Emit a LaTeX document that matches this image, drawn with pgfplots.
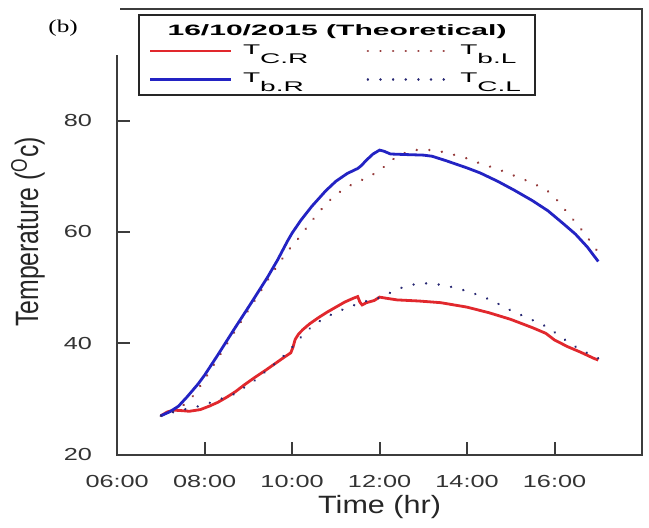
\documentclass[border=0pt]{standalone}
\usepackage{graphicx}
\usepackage{fontspec}
\setmainfont{Liberation Sans}
\newfontfamily\tickfont{Liberation Sans}[FakeStretch=1.45]
\newfontfamily\labfont{Liberation Sans}[FakeStretch=1.22]
\newfontfamily\legfont{Liberation Sans}[FakeStretch=2.0]
\newfontfamily\bfont{Liberation Serif}[FakeStretch=1.4]
\usepackage{pgfplots}
\pgfplotsset{compat=1.18}
\definecolor{cRs}{RGB}{225,40,45}
\definecolor{cBs}{RGB}{35,35,195}
\definecolor{cRd}{RGB}{150,60,60}
\definecolor{cBd}{RGB}{40,40,115}
\definecolor{axc}{RGB}{60,60,60}
\begin{document}
\begin{tikzpicture}
\begin{axis}[
  name=ax,
  scale only axis,
  width=262pt, height=222.4pt,
  xmin=6, xmax=18, ymin=20, ymax=100,
  xtick={6,8,10,12,14,16},
  xticklabels={06:00,08:00,10:00,12:00,14:00,16:00},
  ytick={20,40,60,80},
  yticklabels={20,40,60,80},
  tick pos=left,
  tick align=inside,
  major tick length=6.5pt,
  axis line style={axc, line width=1pt},
  every tick/.style={axc, line width=1pt},
  xticklabel style={font=\tickfont\fontsize{8.7}{10}\selectfont, text=black!80, yshift=-6.6pt},
  yticklabel style={font=\tickfont\fontsize{8.7}{10}\selectfont, text=black!80, xshift=-9.1pt},
  xlabel={Time (hr)},
  ylabel={\scalebox{1}[1.3]{Temperature (\textsuperscript{O}c)}},
  every axis x label/.style={at={(axis description cs:0.5,0)}, anchor=north, yshift=-17pt, font=\labfont\fontsize{12.5}{14}\selectfont, text=black!85},
  every axis y label/.style={at={(axis description cs:-0.17,0.5)}, rotate=90, anchor=center, font=\fontsize{12.4}{14}\selectfont, text=black!85},
  legend columns=2,
  legend cell align=left,
  legend image code/.code={\draw[#1] (0pt,0pt) -- (40pt,0pt);},
  legend style={at={(0.04,0.989)}, anchor=north west, draw=black!85, line width=0.9pt,
    font=\legfont\fontsize{7}{8}\selectfont,
    inner xsep=5pt, inner ysep=2.5pt,
    column sep=3.5pt, row sep=3.8pt,
    /tikz/every even column/.append style={column sep=27pt},
    label={[anchor=north, yshift=-1.8pt, font=\legfont\bfseries\fontsize{7.5}{9}\selectfont]north:16/10/2015 (Theoretical)}},
]
\addlegendimage{empty legend}
\addlegendentry{\rule{0pt}{1pt}}
\addlegendimage{empty legend}
\addlegendentry{}

\addplot[cRs, line width=1.4pt] coordinates {
(7.00,27.0) (7.15,27.7) (7.30,28.0) (7.50,27.9) (7.65,27.8) (7.90,28.1)
(8.10,28.7) (8.30,29.4) (8.50,30.3) (8.70,31.3) (8.90,32.5) (9.15,33.9)
(9.40,35.2) (9.60,36.3) (9.80,37.4) (9.97,38.3) (10.02,39.3) (10.07,40.7)
(10.15,41.7) (10.25,42.5) (10.40,43.5) (10.60,44.6) (10.80,45.6) (11.00,46.5)
(11.20,47.4) (11.40,48.1) (11.50,48.4) (11.55,47.4) (11.60,46.9) (11.70,47.3)
(11.88,47.7) (12.00,48.3) (12.15,48.1) (12.40,47.8) (12.90,47.6) (13.40,47.3)
(14.00,46.5) (14.50,45.5) (15.00,44.3) (15.50,42.8) (15.80,41.8) (16.00,40.6)
(16.30,39.4) (16.60,38.4) (16.90,37.3) (17.00,37.0)};
\addlegendentry{T\raisebox{-4.5pt}{C.R}}

\addplot[cRd, line width=1.3pt, line cap=round, dash pattern=on 0.01pt off 6.3pt] coordinates {
(7.00,27.0) (7.30,27.9) (7.50,28.8) (7.77,30.8) (8.08,34.5) (8.38,38.3)
(8.60,41.0) (8.84,44.0) (9.22,48.6) (9.48,51.8) (9.65,53.8) (9.90,56.6)
(10.14,58.8) (10.45,62.0) (10.77,65.0) (11.00,66.7) (11.26,68.1) (11.50,69.0)
(11.75,69.9) (12.00,71.0) (12.20,72.4) (12.40,73.6) (12.64,74.4) (12.90,74.8)
(13.20,74.7) (13.50,74.3) (14.00,73.2) (14.30,72.3) (14.70,71.3) (15.08,70.1)
(15.50,68.8) (15.85,67.3) (16.05,65.8) (16.24,64.0) (16.45,62.0) (16.63,60.3)
(16.80,58.5) (16.94,57.0) (17.00,56.3)};
\addlegendentry{T\raisebox{-4.5pt}{b.L}}

\addplot[cBs, line width=1.4pt] coordinates {
(7.00,27.0) (7.20,27.7) (7.40,28.7) (7.60,30.4) (7.85,32.7) (8.00,34.3)
(8.30,37.9) (8.68,42.6) (9.06,47.2) (9.44,51.9) (9.67,55.0) (9.89,58.3)
(10.00,59.8) (10.20,62.1) (10.45,64.6) (10.77,67.4) (11.00,69.1) (11.26,70.5)
(11.50,71.4) (11.58,71.9) (11.70,72.9) (11.85,74.0) (12.00,74.7) (12.10,74.5)
(12.25,74.0) (12.60,73.9) (13.00,73.8) (13.20,73.6) (13.52,72.8) (14.00,71.5)
(14.30,70.6) (14.70,69.1) (15.08,67.5) (15.50,65.6) (15.85,63.8) (16.20,61.5)
(16.48,59.6) (16.75,57.3) (17.00,54.7)};
\addlegendentry{T\raisebox{-4.5pt}{b.R}\rule[-6.5pt]{0pt}{1pt}}

\addplot[cBd, line width=1.3pt, line cap=round, dash pattern=on 0.01pt off 6.3pt] coordinates {
(7.00,27.0) (7.40,27.9) (7.92,28.8) (8.15,29.4) (8.68,30.9) (9.14,33.3)
(9.60,36.3) (9.90,38.4) (10.20,41.1) (10.50,43.4) (10.97,45.5) (11.40,46.8)
(11.70,47.6) (12.00,48.2) (12.33,49.4) (12.60,50.3) (12.94,50.8) (13.25,50.7)
(13.55,50.3) (13.86,49.7) (14.10,49.1) (14.39,48.3) (14.74,47.0) (15.05,45.7)
(15.35,44.7) (15.60,43.8) (15.84,42.9) (16.07,41.6) (16.30,40.3) (16.52,39.2)
(16.79,38.1) (17.00,37.3)};
\addlegendentry{T\raisebox{-4.5pt}{C.L}\rule[-6.5pt]{0pt}{1pt}}
\end{axis}
\fill[white] ([xshift=-1.5pt,yshift=1pt]ax.north west) rectangle ([xshift=1.2pt,yshift=-23pt]ax.north west);
\node[font=\bfont\fontsize{9}{10}\selectfont] at ([xshift=-27pt,yshift=-9.4pt]ax.north west) {(b)};
\pgfresetboundingbox
\path[use as bounding box] ([xshift=-58.5pt,yshift=-36.5pt]ax.south west) rectangle ([xshift=3.5pt,yshift=4.6pt]ax.north east);
\end{tikzpicture}
\end{document}
